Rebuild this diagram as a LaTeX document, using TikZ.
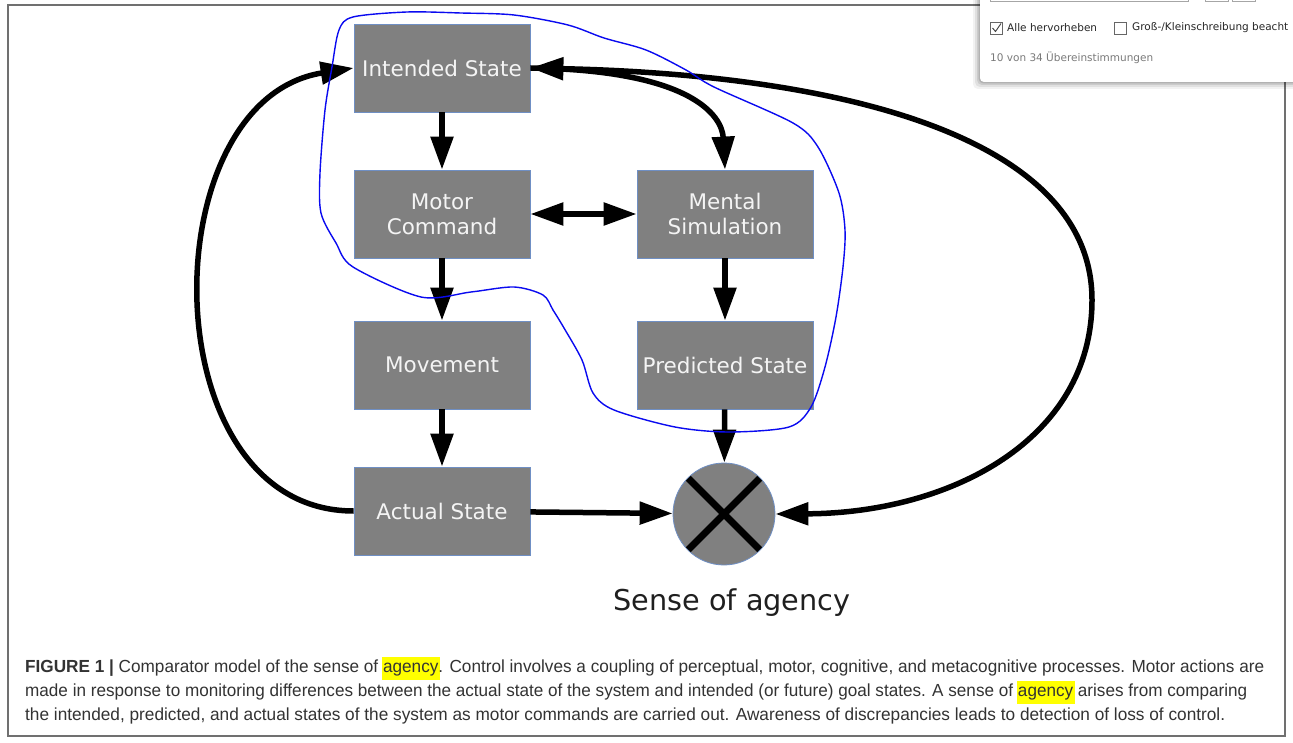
\documentclass[tikz,border=0pt]{standalone}
\usepackage{fontspec}
\usepackage{graphicx}
\setmainfont{DejaVu Sans}
\newfontfamily\capfont{Liberation Sans}
\usetikzlibrary{arrows.meta}
\definecolor{boxgray}{HTML}{808080}
\definecolor{boxedge}{HTML}{6F8FC4}
\definecolor{boxtext}{HTML}{F4F4F4}
\definecolor{framegray}{HTML}{707070}
\definecolor{capgray}{HTML}{333333}
\definecolor{hlyellow}{HTML}{FFFF00}
\definecolor{penblue}{HTML}{0A0AF0}
\definecolor{findgray}{HTML}{7A7A7A}
\newcommand{\hlword}[1]{{\fboxsep=1.5pt\kern-1.5pt\colorbox{hlyellow}{\strut#1}\kern-1.5pt}}

\begin{document}
\begin{tikzpicture}[x=1pt,y=-1pt,
  headtip/.tip={Triangle[length=33pt,width=22pt]},
  stateblock/.style={draw=boxedge,line width=0.8pt,fill=boxgray,text=boxtext,
    minimum width=176pt,minimum height=88pt,inner sep=0pt,align=center,
    font=\fontsize{21.5}{25}\selectfont},
  flowarrow/.style={line width=5.5pt,-headtip},
  bothway/.style={line width=5.5pt,headtip-headtip},
  capline/.style={anchor=base west,inner sep=0pt,text=capgray,
    font=\capfont\fontsize{17.5}{20}\selectfont}]
\useasboundingbox (0,0) rectangle (1293,743);
\fill[white] (0,0) rectangle (1293,743);
\draw[framegray,line width=2pt] (8,5) rectangle (1285,736);
\node[stateblock] (intended) at (442,68) {Intended State};
\node[stateblock] (motor) at (442,214) {Motor\\Command};
\node[stateblock] (mental) at (725,214) {Mental\\Simulation};
\node[stateblock] (movement) at (442,365) {Movement};
\node[stateblock] (predicted) at (725,365) {Predicted State};
\node[stateblock] (actual) at (442,511) {Actual State};
\node[circle,draw=boxedge,line width=0.8pt,fill=boxgray,minimum size=102pt,inner sep=0pt] (comparator) at (724,514) {};
\draw[line width=7pt,shorten <=1pt,shorten >=1pt] (comparator.north west) -- (comparator.south east);
\draw[line width=7pt,shorten <=1pt,shorten >=1pt] (comparator.north east) -- (comparator.south west);
\node[font=\fontsize{28.7}{34}\selectfont,text=black!88] (agencylabel) at (732,603) {Sense of agency};
\draw[flowarrow] (intended) -- (motor);
\draw[flowarrow] (motor) -- (movement);
\draw[flowarrow] (movement) -- (actual);
\draw[flowarrow] (mental) -- (predicted);
\draw[flowarrow] (predicted) -- (comparator);
\draw[flowarrow] (actual) -- (comparator);
\draw[bothway] (motor) -- (mental);
\draw[flowarrow] (actual.west) .. controls (150,511) and (150,100) .. (intended.west);
\draw[flowarrow] (intended.east) .. controls (690,70) and (722,115) .. (mental.north);
\draw[bothway] (comparator.east) .. controls (950,513) and (1092,440) .. (1092,300) .. controls (1092,140) and (850,75) .. (intended.east);
\draw[penblue,line width=1.4pt] plot[smooth cycle,tension=0.5] coordinates {
  (353,17) (407,12) (461,13) (514,15) (568,25) (604,38) (646,50) (686,70)
  (714,87) (793,123) (818,147) (839,193) (845,230) (843,267) (836,317)
  (825,367) (811,407) (789,427) (729,432) (675,427) (614,410) (593,393)
  (582,360) (564,328) (553,310) (543,295) (514,287) (471,292) (421,297)
  (353,267) (336,243) (321,213) (320,173) (325,110) (332,67) (339,30)};
\node[capline] (capone) at (25,672) {\resizebox{1239pt}{\height}{\textbf{FIGURE 1 |} Comparator model of the sense of \hlword{agency}. Control involves a coupling of perceptual, motor, cognitive, and metacognitive processes. Motor actions are}};
\node[capline] (captwo) at (25,696) {\resizebox{1222pt}{\height}{made in response to monitoring differences between the actual state of the system and intended (or future) goal states. A sense of \hlword{agency} arises from comparing}};
\node[capline] (capthree) at (25,720) {\resizebox{1200pt}{\height}{the intended, predicted, and actual states of the system as motor commands are carried out. Awareness of discrepancies leads to detection of loss of control.}};
\begin{scope}
\clip (0,0) rectangle (1293,743);
\foreach \s/\o in {7/0.05,5/0.07,3/0.09,1.5/0.12}
  \fill[black,opacity=\o,rounded corners=5pt] (980-\s,-10) rectangle (1310,82+\s);
\fill[white,rounded corners=4pt] (980,-10) rectangle (1310,82);
\draw[black!35,line width=0.8pt] (990,-20) rectangle (1188,1);
\draw[black!35,line width=0.8pt] (1205,-20) rectangle (1228,1);
\draw[black!35,line width=0.8pt] (1232,-20) rectangle (1255,1);
\node[draw=black!60,line width=0.8pt,fill=white,minimum size=12pt,inner sep=0pt] (checkall) at (996.5,28) {};
\draw[black!75,line width=0.9pt] (992.5,28) -- (995.5,31.5) -- (1001,23.5);
\node[draw=black!60,line width=0.8pt,fill=white,minimum size=12pt,inner sep=0pt] (checkcase) at (1120,28) {};
\node[anchor=west,inner sep=0pt,font=\fontsize{10.5}{12}\selectfont,text=black!85] (alllabel) at (1007,28) {Alle hervorheben};
\node[anchor=west,inner sep=0pt,font=\fontsize{10.5}{12}\selectfont,text=black!85] (caselabel) at (1132,28) {Groß-/Kleinschreibung beacht};
\node[anchor=west,inner sep=0pt,font=\fontsize{10.5}{12}\selectfont,text=findgray] (matchcount) at (990,58) {10 von 34 Übereinstimmungen};
\end{scope}
\end{tikzpicture}
\end{document}
